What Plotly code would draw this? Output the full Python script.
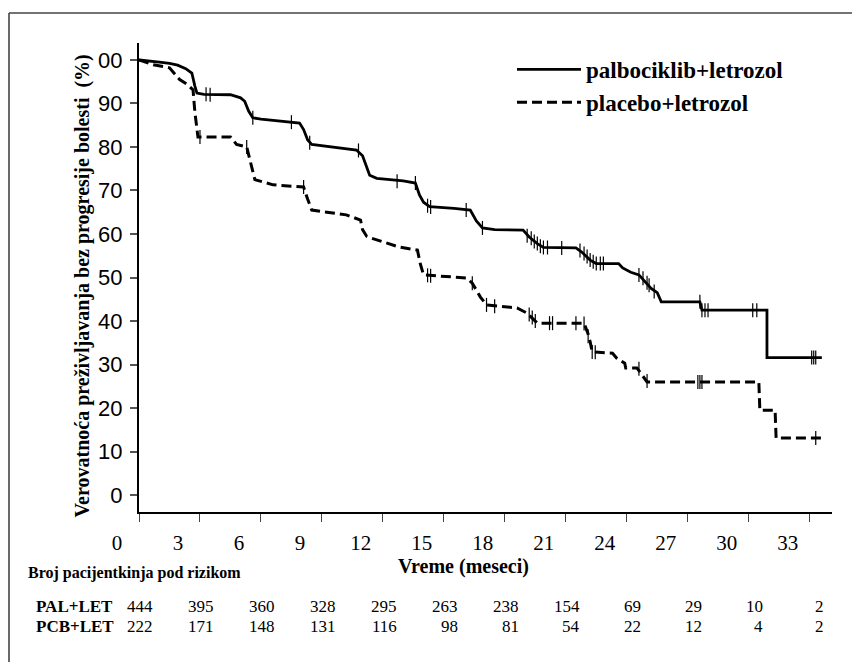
import plotly.graph_objects as go

# ---------------- data ----------------
pal_t = [0, 0.5, 1.0, 1.5, 1.9, 2.3, 2.6, 2.75, 2.85, 3.2, 4.5, 5.0, 5.2, 5.4, 5.6, 6.0, 7.0, 7.9, 8.1, 8.3, 8.5,
         9.5, 10.7, 11.0, 11.2, 11.35, 11.7, 13.0, 13.6, 13.8, 14.0, 14.3, 15.5, 16.3, 16.6, 16.9, 17.5, 18.9,
         19.2, 19.6, 19.9, 21.5, 21.8, 22.2, 22.5, 23.6, 23.8, 24.2, 24.6, 24.9, 25.2, 25.5, 25.7, 27.6, 27.7,
         30.9, 30.9, 33.6]
pal_v = [100, 99.8, 99.5, 99.2, 98.8, 98.0, 97.0, 94.0, 92.4, 92.1, 92.0, 91.3, 90.5, 88.2, 86.7, 86.4, 85.9, 85.5, 84.0, 81.6, 80.6,
         80.0, 79.3, 78.0, 75.5, 73.5, 72.8, 72.2, 71.7, 69.0, 67.3, 66.3, 65.9, 65.5, 63.0, 61.4, 61.0, 60.9,
         59.3, 57.8, 56.9, 56.8, 55.8, 54.0, 53.2, 53.2, 52.2, 51.2, 50.6, 49.0, 47.5, 46.5, 44.4, 44.4, 42.5,
         42.5, 31.6, 31.6]

pcb_t = [0, 0.7, 1.5, 2.0, 2.4, 2.66, 2.75, 2.9, 4.5, 4.8, 5.3, 5.5, 5.7, 6.6, 8.1, 8.3, 8.5, 10.2, 10.9, 11.0,
         11.2, 11.4, 12.8, 13.7, 13.85, 14.0, 16.1, 16.4, 16.8, 17.1, 18.6, 19.1, 19.6, 21.9, 22.1, 22.2, 22.3,
         23.3, 23.5, 23.9, 23.95, 24.5, 24.8, 25.0, 30.5, 30.55, 31.3, 31.35, 33.7]
pcb_v = [100, 98.9, 98.2, 95.5, 94.3, 93.1, 88.0, 82.3, 82.3, 80.6, 80.0, 76.3, 72.5, 71.3, 70.8, 68.0, 65.5, 64.4, 63.2, 61.0,
         59.5, 59.1, 57.0, 56.3, 53.0, 50.6, 49.9, 48.7, 45.5, 43.7, 43.0, 41.8, 39.5, 39.5, 37.0, 35.2, 32.9,
         32.6, 31.5, 30.3, 29.2, 29.2, 27.1, 26.0, 26.0, 19.5, 19.5, 13.1, 13.1]

pal_cens_t = [3.3, 3.5, 5.6, 7.5, 8.4, 10.8, 12.7, 13.6, 14.2, 14.35, 16.1, 16.9, 19.1, 19.3, 19.45, 19.6, 19.75,
              19.9, 20.1, 20.8, 21.7, 21.9, 22.05, 22.2, 22.35, 22.5, 22.7, 22.85, 24.6, 24.8, 25.0, 25.1, 25.35,
              27.6, 27.7, 27.85, 28.0, 30.2, 30.4, 33.1, 33.2, 33.3]
pal_cens_v = [92.1, 92.0, 86.7, 85.7, 81.0, 79.2, 72.1, 71.7, 66.5, 66.2, 65.5, 61.4, 59.6, 59.0, 58.3, 57.8, 57.2,
              56.9, 56.9, 56.8, 56.2, 55.5, 54.8, 54.0, 53.6, 53.2, 53.2, 53.2, 50.6, 49.8, 48.8, 48.2, 46.8,
              44.4, 42.5, 42.5, 42.5, 42.5, 42.5, 31.6, 31.6, 31.6]

pcb_cens_t = [3.0, 5.3, 8.1, 14.2, 14.35, 16.4, 17.1, 17.5, 19.2, 19.35, 19.5, 20.2, 20.35, 21.5, 21.9, 22.1,
              22.3, 22.45, 24.6, 25.0, 27.5, 27.6, 27.7, 33.3]
pcb_cens_v = [82.3, 80.0, 70.8, 50.5, 50.4, 48.7, 43.7, 43.4, 41.5, 40.8, 40.0, 39.5, 39.5, 39.5, 39.4, 36.5,
              32.9, 32.8, 29.0, 26.2, 26.0, 26.0, 26.0, 13.1]

x_ticks = [0, 3, 6, 9, 12, 15, 18, 21, 24, 27, 30, 33]
x_ticklabels = ["0", "3", "6", "9", "12", "15", "18", "21", "24", "27", "30", "33"]
y_ticks = [0, 10, 20, 30, 40, 50, 60, 70, 80, 90, 100]
y_ticklabels = ["0", "10", "20", "30", "40", "50", "60", "70", "80", "90", "00"]

risk_times = [0, 3, 6, 9, 12, 15, 18, 21, 24, 27, 30, 33]
risk_pal = [444, 395, 360, 328, 295, 263, 238, 154, 69, 29, 10, 2]
risk_pcb = [222, 171, 148, 131, 116, 98, 81, 54, 22, 12, 4, 2]
risk_rows = ["PAL+LET", "PCB+LET"]

names = ["palbociklib+letrozol", "placebo+letrozol"]

# ---------------- figure ----------------
SERIF = "Liberation Serif, Times New Roman, serif"
SANS = "Liberation Sans, Arial, sans-serif"
OFF = 8                      # page body margin
W, H = 852, 654
ML, MR, MT, MB = 102, 28, 35, 150
PW = W - ML - MR
PH = H - MT - MB


def px_x(p):
    """reference-page pixel -> paper fraction"""
    return (p - OFF - ML) / PW


def px_y(p):
    return (H - MB - (p - OFF)) / PH


fig = go.Figure()

fig.add_trace(go.Scatter(x=pal_t, y=pal_v, mode="lines", name="<b>" + names[0] + "</b>",
                         line=dict(color="black", width=2.8), hoverinfo="skip"))
fig.add_trace(go.Scatter(x=pcb_t, y=pcb_v, mode="lines", name="<b>" + names[1] + "</b>",
                         line=dict(color="black", width=3, dash="10px,5px"), hoverinfo="skip"))
for ct, cv in [(pal_cens_t, pal_cens_v), (pcb_cens_t, pcb_cens_v)]:
    fig.add_trace(go.Scatter(x=ct, y=cv, mode="markers", showlegend=False,
                             marker=dict(symbol="line-ns-open", size=10, color="black",
                                         line=dict(color="black", width=1.2)),
                             hoverinfo="skip"))
# invisible trace so the label axis (x2) is drawn
fig.add_trace(go.Scatter(x=x_ticks, y=[50] * len(x_ticks), xaxis="x2", yaxis="y", mode="markers",
                         marker=dict(opacity=0), showlegend=False, hoverinfo="skip"))

x_range = [0, 34.1]
dom_x = [px_x(139), 1.0]
dom_x2 = [px_x(117), px_x(117 + (832 - 139))]

fig.update_layout(
    width=W, height=H,
    margin=dict(l=ML, r=MR, t=MT, b=MB),
    paper_bgcolor="white", plot_bgcolor="rgba(0,0,0,0)",
    showlegend=True,
    legend=dict(x=px_x(512), y=px_y(48), xanchor="left", yanchor="top",
                font=dict(family=SERIF, size=23, color="black"),
                bgcolor="rgba(0,0,0,0)", itemwidth=64, tracegroupgap=0),
    xaxis=dict(domain=dom_x, range=x_range, tickvals=x_ticks, showticklabels=False,
               ticks="outside", ticklen=8, tickwidth=1.2, tickcolor="#444",
               showline=True, linecolor="black", linewidth=2.4, showgrid=False, zeroline=False,
               anchor="y"),
    xaxis2=dict(domain=dom_x2, range=x_range, tickvals=x_ticks, ticktext=x_ticklabels,
                ticks="outside", ticklen=12, tickcolor="rgba(0,0,0,0)",
                tickfont=dict(family=SERIF, size=21, color="black"),
                showline=False, showgrid=False, zeroline=False, anchor="y",
                title=dict(text="<b>Vreme (meseci)</b>", standoff=2,
                           font=dict(family=SERIF, size=20, color="black"))),
    yaxis=dict(range=[-3.9, 103.9], tickvals=y_ticks, ticktext=y_ticklabels,
               ticks="outside", ticklen=7, tickwidth=1.5, tickcolor="#555",
               ticklabelstandoff=3,
               tickfont=dict(family=SANS, size=22, color="black"),
               showline=True, linecolor="black", linewidth=2.4, showgrid=False, zeroline=False,
               anchor="x"),
)

ann = []
ann.append(dict(text="<b>Verovatnoća preživljavanja bez progresije bolesti  (%)</b>",
                xref="paper", yref="paper", x=px_x(68), y=px_y(286), textangle=-90,
                showarrow=False, font=dict(family=SERIF, size=20, color="black")))
ann.append(dict(text="<b>Broj pacijentkinja pod rizikom</b>", xref="paper", yref="paper",
                x=px_x(26), y=px_y(573), xanchor="left", yanchor="middle", showarrow=False,
                font=dict(family=SERIF, size=16, color="black")))
row_y = [606, 626]
for r, (lab, vals) in enumerate(zip(risk_rows, [risk_pal, risk_pcb])):
    ann.append(dict(text="<b>" + lab + "</b>", xref="paper", yref="paper", x=px_x(35), y=px_y(row_y[r]),
                    xanchor="left", yanchor="middle", showarrow=False, borderpad=0,
                    font=dict(family=SERIF, size=17, color="black")))
    for t, v in zip(risk_times, vals):
        ann.append(dict(text=str(v), xref="x", yref="paper", x=t, y=px_y(row_y[r]),
                        xanchor="right", yanchor="middle", xshift=15, showarrow=False, borderpad=0,
                        font=dict(family=SERIF, size=17, color="black")))
fig.update_layout(annotations=ann)

# outer frame (top and left edges visible)
fig.add_shape(type="line", xref="paper", yref="paper", x0=px_x(9), x1=px_x(W + OFF + 5), y0=px_y(13), y1=px_y(13),
              line=dict(color="#444", width=1.6))
fig.add_shape(type="line", xref="paper", yref="paper", x0=px_x(9), x1=px_x(9), y0=px_y(13), y1=px_y(H + OFF + 5),
              line=dict(color="#444", width=1.6))

fig.write_html("out.html")
